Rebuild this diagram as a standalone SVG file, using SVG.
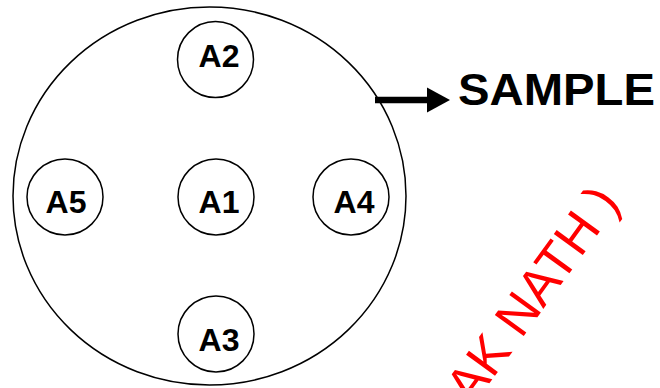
<svg xmlns="http://www.w3.org/2000/svg" width="660" height="388" viewBox="0 0 660 388">
<style>
.c{fill:#fff;stroke:#000;stroke-width:1.5}
.l{font-family:"Liberation Sans",Arial,sans-serif;font-weight:bold;font-size:32px;text-anchor:middle;fill:#000}
.s{font-family:"Liberation Sans",Arial,sans-serif;font-weight:bold;font-size:44px;fill:#000}
.w{font-family:"Liberation Sans",Arial,sans-serif;font-size:52px;fill:#f00}
</style>
<rect width="660" height="388" fill="#fff"/>
<g id="sample">
<ellipse class="c" cx="209.5" cy="196" rx="196.5" ry="189"/>
</g>
<g id="A2"><circle class="c" cx="215.5" cy="59.5" r="38"/><text class="l" x="219" y="67">A2</text></g>
<g id="A1"><circle class="c" cx="216" cy="197" r="38"/><text class="l" x="219" y="213">A1</text></g>
<g id="A5"><circle class="c" cx="65" cy="197" r="38"/><text class="l" x="66" y="213">A5</text></g>
<g id="A4"><circle class="c" cx="351" cy="197" r="38"/><text class="l" x="354" y="213">A4</text></g>
<g id="A3"><circle class="c" cx="216" cy="334" r="38"/><text class="l" x="219" y="351">A3</text></g>
<g id="connectors">
<line x1="375" y1="100" x2="430" y2="100" stroke="#000" stroke-width="6.5"/>
<polygon points="427,87.5 450,100 427,112.5" fill="#000"/>
</g>
<g id="label"><text class="s" x="458" y="105" textLength="197" lengthAdjust="spacingAndGlyphs">SAMPLE</text></g>
<text class="w" transform="translate(472,407.3) rotate(-54)">AK NATH )</text>
</svg>
